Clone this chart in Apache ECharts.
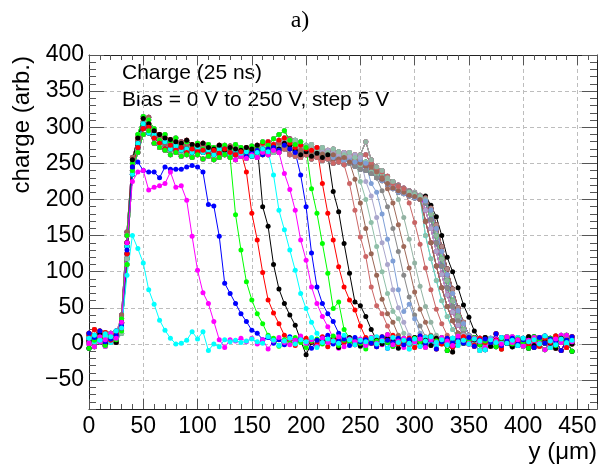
<!DOCTYPE html>
<html lang="en">
<head>
<meta charset="UTF-8">
<title>Charge vs y, bias scan</title>
<script src="https://cdn.jsdelivr.net/npm/echarts@6.0.0/dist/echarts.min.js"></script>
<style>html,body{margin:0;padding:0;background:#fff;}</style>
</head>
<body>
<div id="main" style="width:600px;height:468px;"></div>
<script type="text/javascript">
// scan positions (um)
var yPos = [0,5,10,15,20,25,30,35,40,45, 50,55,60,65,70,75,80,85,90,95,
  100,105,110,115,120,125,130,135,140,145, 150,155,160,165,170,175,180,185,190,195,
  200,205,210,215,220,225,230,235,240,245, 250,255,260,265,270,275,280,285,290,295,
  300,305,310,315,320,325,330,335,340,345, 350,355,360,365,370,375,380,385,390,395,
  400,405,410,415,420,425,430,435,440,445];

// bias voltages, one curve each
var biasV = [0,5,10,15,20,25,30,35,40,45,50,55,60,65,70,75,80,85,90,95,100,
  105,110,115,120,125,130,135,140,145,150,155,160,165,170,175,180,185,190,195,200,
  205,210,215,220,225,230,235,240,245,250];

// baseline noise (x = 0..445)
var noiseA = [8,12,5,14,10,18,9,4,2,6, 3,-2,5,8,1,4,7,-3,2,6, 5,0,9,3,-1,6,2,8,4,-4, 7,3,1,10,5,-2,4,8,0,6, 3,9,-5,2,7,4,1,12,6,-1, 5,3,8,0,4,-6,9,2,5,1, 7,-3,4,10,2,6,-1,8,3,5, 0,7,4,-8,6,2,9,1,5,-2, 8,3,6,0,11,4,-1,7,2,5];
var noiseB = [2,-4,10,6,15,8,12,7,-2,4, 9,1,-6,3,11,5,0,8,-3,6, 2,10,4,-5,7,1,5,12,-2,3, 8,0,6,-7,4,9,2,-1,5,11, 1,6,-3,8,2,4,10,-4,7,3, 6,-2,9,1,5,13,-1,4,8,0, 3,7,-5,6,2,9,4,-2,11,5, 1,8,3,-6,7,4,0,10,2,6, -3,5,9,1,-8,4,7,2,12,3];
var noiseC = [15,9,18,3,7,12,5,10,6,-1, 4,8,2,12,-3,6,9,1,5,-5, 10,3,7,0,8,-2,4,11,6,2, -4,7,3,9,1,6,-1,10,4,8, 2,-6,5,8,12,0,4,7,-2,9, 3,6,1,-4,10,5,2,8,-1,6, 4,11,0,5,-7,3,8,2,6,1, 9,-3,5,7,2,14,-2,4,8,0, 6,3,-5,9,1,7,4,-9,5,10];
var noiseD = [-6,5,8,-2,12,6,4,-5,9,3, 0,7,5,-8,4,10,2,6,-1,8, 3,-4,6,9,1,5,-6,7,2,4, 10,-1,5,3,8,-3,6,1,9,2, -5,4,7,0,6,11,-2,5,3,8, 1,-7,6,4,9,2,-3,7,5,0, 8,3,-2,10,4,6,-9,2,7,1, 5,9,-1,4,6,-4,8,3,0,7, 2,-6,10,5,1,8,-2,6,4,-10];
var noiseE = [12,20,9,16,5,14,10,12,4,8, -3,6,2,9,5,-4,8,3,7,1, 11,-2,5,4,9,0,6,-5,8,3, 2,12,-3,7,4,1,9,5,-2,6, 8,3,0,10,-4,5,7,2,6,-1, 4,9,1,-3,7,5,12,0,3,8, -5,6,2,9,4,0,7,-4,5,10, 3,-1,8,2,6,5,-7,9,1,4, 7,0,5,-3,8,2,11,4,-5,6];
var noiseF = [4,7,14,0,9,2,8,3,5,10, 1,-5,7,4,0,9,-2,6,3,12, -1,5,8,2,-4,7,3,10,0,6, 5,-3,9,2,6,-8,4,7,1,5, 10,2,-2,6,3,8,-5,4,9,1, -3,7,2,5,0,8,4,-6,6,3, 9,1,5,-2,8,3,6,-11,4,7, 2,6,0,9,-3,5,8,1,-4,6, 3,10,-2,7,4,1,-6,8,5,0];
var noiseG = [10,3,6,11,2,7,14,9,1,5, 7,3,-1,10,6,2,-7,4,9,5, 0,8,2,6,-3,11,4,1,7,-2, 5,9,-4,3,8,0,6,-6,10,2, 4,-1,7,5,-3,9,2,6,0,8, 5,-4,3,10,1,6,-2,8,4,-7, 2,5,9,1,-3,7,4,8,-2,3, 6,0,-9,5,8,3,1,7,-4,9, 4,2,6,-1,9,-5,3,7,0,5];
var noiseH = [0,9,3,-3,7,11,6,2,8,12, -2,4,9,1,7,3,5,-4,10,2, 6,1,-3,8,4,9,2,-1,5,7, 3,-5,8,2,11,4,0,6,-3,9, 1,5,3,-2,8,6,-6,10,2,4, 7,0,5,9,-1,3,6,2,-5,8, 4,10,-3,6,1,7,3,-2,9,5, 0,4,8,-5,2,7,-1,5,10,3, -2,6,1,9,3,-4,7,12,-3,4];
var noises = [noiseA, noiseB, noiseC, noiseD, noiseE, noiseF, noiseG, noiseH];

// plateau shapes of depleted region, x = 30..305
var plateauA = [30,140,255,285,312,305,295,290,285,283, 280,278,282,276,275,278,272,270,275,268, 272,270,268,272,270,275,278,280,276,282, 285,278,272,275,270,268,272,266,268,265, 262,265,260,262,258,262,250,242,238,232, 222,218,215,212,210,206];
var plateauB = [22,125,245,272,298,300,285,278,270,275, 268,272,265,270,266,268,262,268,264,270, 265,262,266,260,265,268,262,270,272,268, 275,270,265,268,262,265,260,263,258,262, 256,258,252,255,250,248,245,238,230,225, 218,214,210,208,205,202];
var plateauC = [35,150,240,265,290,295,278,272,268,262, 265,260,262,258,262,256,260,255,258,262, 258,255,260,257,262,258,265,262,268,265, 270,262,260,258,262,256,258,254,256,250, 252,248,250,246,242,240,236,230,226,220, 215,210,208,205,202,200];
var plateauD = [18,110,250,290,315,310,298,282,290,280, 285,275,280,272,278,270,276,272,268,275, 270,276,272,268,274,270,280,275,284,290, 295,282,276,280,272,276,268,272,265,270, 266,262,265,258,262,280,255,245,240,230, 225,220,216,212,208,205];
var plateauE = [28,135,235,278,305,292,290,275,280,270, 274,268,270,265,272,265,268,262,270,265, 262,268,264,266,260,265,270,266,274,270, 278,275,268,262,266,260,264,258,262,258, 260,254,256,252,255,250,242,236,232,226, 220,215,212,208,206,203];
var plateauF = [40,155,258,282,300,314,292,286,276,282, 272,280,274,268,270,274,266,272,262,268, 274,266,270,262,268,272,266,276,270,278, 272,284,270,265,270,262,268,262,265,256, 262,256,258,250,254,246,248,240,228,222, 216,212,210,206,204,200];
var plateauG = [15,118,238,270,308,298,288,280,275,268, 276,265,268,274,262,268,274,265,270,262, 268,272,262,270,264,262,272,268,265,274, 280,276,282,272,275,270,262,268,260,264, 258,262,255,258,248,252,238,235,236,228, 224,216,214,210,207,204];
var plateaus = [plateauA, plateauB, plateauC, plateauD, plateauE, plateauF, plateauG];

// falling edges (5 um steps from the cut position)
var edge0 = [22,95,150,132,112,75,55,33,19,8,0,1,5,17,7,17,-9,0,-4,6,3,5,2,4];
var edge5 = [30,140,225,238,240,213,217,219,222,238,217,219,199,149,102,71,56,31,6,-5,6,4,8];
var edge10 = [25,130,245,252,240,238,238,230,245,242,242,242,245,247,245,238,193,191,149,84,70,56,42,31,19,15,6];
var edge15 = [179,130,86,61,42,28,12];
var edge20 = [238,181,144,99,61,43,28,12];
var edge25 = [190,163,110,76,56,40,26,5,-15];
var edge30 = [234,185,158,130,102,70,49,30,15,5];
var edge35 = [236,214,185,144,116,79,56,38,24,8];
var edge40 = [234,190,126,79,56,42,31,15,5];
var edge45 = [215,181,139,98,49,58,20,8];
var edge50 = [222,181,144,107,79,61,47,25,8];
var edge55 = [211,183,139,98,58,53,38,20,5];
var edge60 = [222,185,148,121,79,53,42,25,8];
var edge65 = [228,195,160,125,95,62,42,30,12];
var edge70 = [225,200,168,135,100,70,45,35,15];
var edge75 = [225,205,175,140,110,75,50,30,12];
var edge80 = [222,210,180,145,115,75,45,55,35,15];
var edge85 = [212,190,160,128,95,65,40,25,10];
var edge90 = [215,195,165,135,105,72,48,30,12];
var edge95 = [200,175,145,112,80,52,30,12];
var edge100 = [195,168,138,105,75,48,28,12];
// full depletion edges, from 310 um
var edgeF0 = [150,118,88,60,38,20,8];
var edgeF1 = [170,140,108,78,52,32,15,5];
var edgeF2 = [185,160,128,96,68,44,26,12,4];
var edgeF3 = [195,172,140,108,78,52,32,15,5];
var edgeF4 = [200,180,150,118,88,60,38,20,6];
var edgeF5 = [202,188,165,135,104,76,50,30,12];
var edgeF6 = [205,192,176,150,120,100,78,54,37,18,6];
var edgeF7 = [198,185,160,128,96,70,46,28,12,4];

var edges = [edge0, edge5, edge10, edge15, edge20, edge25, edge30, edge35, edge40, edge45,
  edge50, edge55, edge60, edge65, edge70, edge75, edge80, edge85, edge90, edge95, edge100,
  edgeF1, edgeF0, edgeF2, edgeF7, edgeF3, edgeF1, edgeF4, edgeF2, edgeF7, edgeF3,
  edgeF5, edgeF1, edgeF0, edgeF2, edgeF3, edgeF4, edgeF7, edgeF5, edgeF2, edgeF4,
  edgeF1, edgeF3, edgeF7, edgeF5, edgeF4, edgeF1, edgeF2, edgeF3, edgeF5, edgeF6];
var cutAt = [30,30,30,135,145,160,170,180,195,205,215,225,240,245,250,255,260,270,275,285,295,
  310,310,310,310,310,310,310,310,310,310,310,310,310,310,310,310,310,310,310,310,
  310,310,310,310,310,310,310,310,310,310];
var plateauOf = [0,0,0, 2,1,0,4,2,1,3,0,4,2,1,3,0,4,2,1,3,0,
  5,6,1,2,3,4,0,5,6,1,2,3,4,0,5,6,1,2,3,4,0,5,6,1,2,3,4,0,5,6];

var CY = '#00ffff', MA = '#ff00ff', BL = '#0000ff', GR = '#00ff00', RD = '#ff0000', BK = '#000000';
var colors = [CY,MA,BL,GR,RD,BK, CY,MA,BL,GR,RD,BK,
  '#cc6666','#996655','#8fbfa8','#aaa6cc','#7f9fd6','#888888','#a06a5a','#93b3a3','#c86464',
  '#996655','#8fbfa8','#aaa6cc','#7f9fd6','#888888','#a06a5a','#93b3a3','#c86464','#7f8fbf','#999999','#b08888','#cc6666',
  CY,MA,BL,GR,RD,BK,
  '#888888','#7f9fd6','#996655','#aaa6cc','#8fbfa8','#cc6666','#999999',
  MA,BL,GR,RD,BK];

var xMajor = [0,50,100,150,200,250,300,350,400,450];
var yMajor = [-50,0,50,100,150,200,250,300,350,400];

function curve(k) {
    var nz = noises[k % noises.length];
    var pl = plateaus[plateauOf[k]];
    var ed = edges[k];
    var start = cutAt[k] / 5;
    var pts = [];
    for (var i = 0; i < yPos.length; i++) {
        var v;
        if (i < 6) v = nz[i];
        else if (i < start) v = pl[i - 6];
        else if (i - start < ed.length) v = ed[i - start];
        else v = nz[i];
        pts.push([yPos[i], v]);
    }
    return pts;
}

var FONT = 'Liberation Sans';
var myChart = echarts.init(document.getElementById('main'));

var series = [];
// high bias first, so the low-bias curves end up on top
for (var k = biasV.length - 1; k >= 0; k--) {
    series.push({
        name: biasV[k] + ' V',
        type: 'line',
        data: curve(k),
        xAxisIndex: 0,
        yAxisIndex: 0,
        symbol: 'circle',
        symbolSize: 5,
        showSymbol: true,
        lineStyle: { width: 1, color: colors[k] },
        itemStyle: { color: colors[k] },
        emphasis: { disabled: true },
        silent: true
    });
}

var tickColor = '#555';
var frameColor = '#222';
var gridLine = { show: true, lineStyle: { type: [4, 3], color: '#bdbdbd', width: 1 } };

function yLabel(v) {
    return v < 0 ? '\u2212' + Math.abs(v) : String(v);
}

var option = {
    animation: false,
    backgroundColor: '#fff',
    title: {
        text: 'a)',
        left: 'center',
        top: 4,
        textStyle: { fontFamily: 'Liberation Serif', fontSize: 24, fontWeight: 'normal', color: '#000' }
    },
    grid: { left: 89, top: 55, width: 508, height: 354, containLabel: false },
    xAxis: [
        {
            type: 'value', position: 'bottom', min: 0, max: 468,
            axisLine: { show: true, onZero: false, lineStyle: { color: frameColor } },
            axisTick: { show: true, inside: true, length: 10, customValues: xMajor, lineStyle: { color: tickColor } },
            axisLabel: { customValues: xMajor, margin: 6, fontSize: 23, fontFamily: FONT, color: '#000' },
            splitLine: gridLine
        },
        {
            type: 'value', position: 'bottom', min: 0, max: 468, interval: 10,
            axisLine: { show: false, onZero: false },
            axisTick: { show: true, inside: true, length: 5, lineStyle: { color: tickColor } },
            axisLabel: { show: false },
            splitLine: { show: false }
        },
        {
            type: 'value', position: 'top', min: 0, max: 468,
            axisLine: { show: true, onZero: false, lineStyle: { color: frameColor } },
            axisTick: { show: true, inside: true, length: 10, customValues: xMajor, lineStyle: { color: tickColor } },
            axisLabel: { show: false },
            splitLine: { show: false }
        },
        {
            type: 'value', position: 'top', min: 0, max: 468, interval: 10,
            axisLine: { show: false, onZero: false },
            axisTick: { show: true, inside: true, length: 5, lineStyle: { color: tickColor } },
            axisLabel: { show: false },
            splitLine: { show: false }
        }
    ],
    yAxis: [
        {
            type: 'value', position: 'left', min: -90, max: 400,
            axisLine: { show: true, onZero: false, lineStyle: { color: frameColor } },
            axisTick: { show: true, inside: true, length: 15, customValues: yMajor, lineStyle: { color: tickColor } },
            axisLabel: { customValues: yMajor, margin: 5, fontSize: 23, fontFamily: FONT, color: '#000', formatter: yLabel },
            splitLine: gridLine
        },
        {
            type: 'value', position: 'left', min: -90, max: 400, interval: 10,
            axisLine: { show: false, onZero: false },
            axisTick: { show: true, inside: true, length: 7, lineStyle: { color: tickColor } },
            axisLabel: { show: false },
            splitLine: { show: false }
        },
        {
            type: 'value', position: 'right', min: -90, max: 400,
            axisLine: { show: true, onZero: false, lineStyle: { color: frameColor } },
            axisTick: { show: true, inside: true, length: 15, customValues: yMajor, lineStyle: { color: tickColor } },
            axisLabel: { show: false },
            splitLine: { show: false }
        },
        {
            type: 'value', position: 'right', min: -90, max: 400, interval: 10,
            axisLine: { show: false, onZero: false },
            axisTick: { show: true, inside: true, length: 7, lineStyle: { color: tickColor } },
            axisLabel: { show: false },
            splitLine: { show: false }
        }
    ],
    graphic: [
        { type: 'text', x: 122, y: 73, style: { text: 'Charge (25 ns)', fontSize: 21, fontFamily: FONT, fill: '#000', align: 'left', verticalAlign: 'middle' } },
        { type: 'text', x: 122, y: 100, style: { text: 'Bias = 0 V to 250 V, step 5 V', fontSize: 21, fontFamily: FONT, fill: '#000', align: 'left', verticalAlign: 'middle' } },
        { type: 'text', x: 597, y: 452, style: { text: 'y (\u03bcm)', fontSize: 24, fontFamily: FONT, fill: '#000', align: 'right', verticalAlign: 'middle' } },
        { type: 'text', x: 22, y: 56, rotation: Math.PI / 2, style: { text: 'charge (arb.)', fontSize: 24, fontFamily: FONT, fill: '#000', align: 'right', verticalAlign: 'middle' } }
    ],
    series: series
};

myChart.setOption(option);
</script>
</body>
</html>
